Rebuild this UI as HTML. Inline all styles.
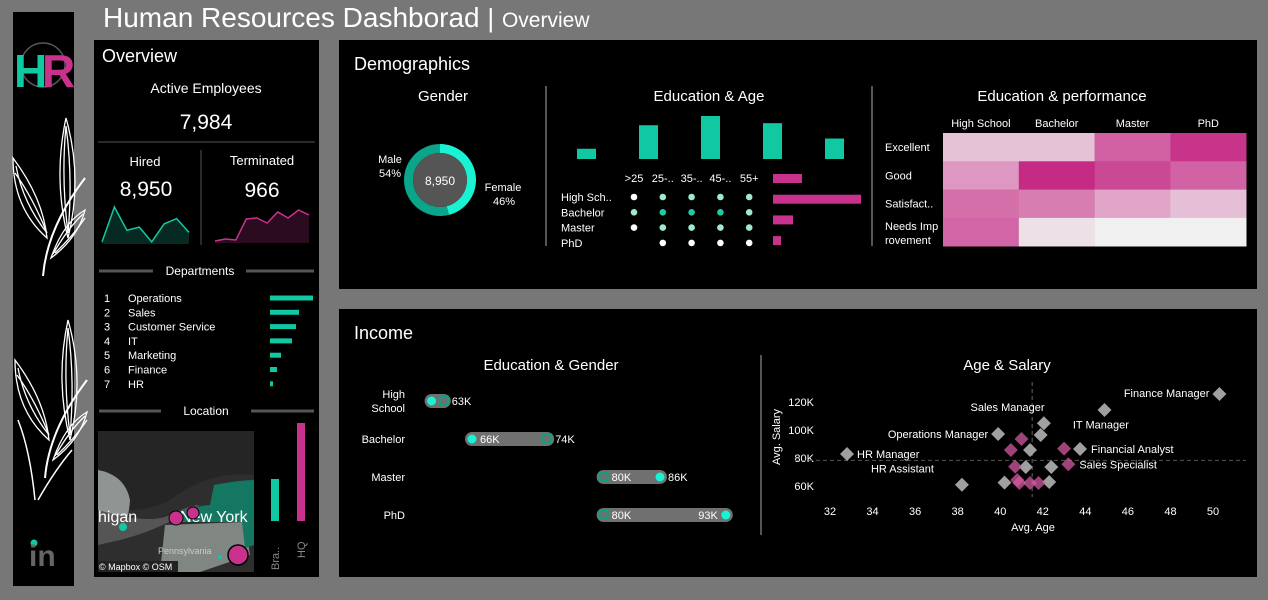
<!DOCTYPE html>
<html><head><meta charset="utf-8">
<style>
html,body{margin:0;padding:0;background:#777;}
svg{display:block;font-family:"Liberation Sans","DejaVu Sans",sans-serif;}
text{fill:#fff;}
</style></head>
<body>
<svg id="root" width="1268" height="600" viewBox="0 0 1268 600" xmlns="http://www.w3.org/2000/svg">
<rect x="0" y="0" width="1268" height="600" fill="#777"/>
<text x="103" y="27" font-size="28">Human Resources Dashborad <tspan font-size="26">|</tspan> <tspan font-size="21">Overview</tspan></text>

<!-- left strip -->
<g>
<rect x="13" y="12" width="61" height="574" fill="#000"/>
<g>
<circle cx="43" cy="65" r="22" fill="none" stroke="#555" stroke-width="1.5"/>
<text x="14" y="87" font-size="46" font-weight="bold" style="fill:#10c9a3">H</text>
<text x="42" y="87" font-size="46" font-weight="bold" style="fill:#c9328c">R</text>
</g>
<defs>
<g id="leafset" fill="none" stroke="#fff" stroke-width="1.3">
<path d="M30 158 Q34 110 72 60" stroke-width="2"/>
<path d="M55 120 Q40 60 53 0 Q70 60 55 120Z"/>
<path d="M55 115 Q48 60 53 8 M55 115 Q60 60 53 8"/>
<path d="M34 120 Q0 90 0 40 Q30 80 34 120Z"/>
<path d="M34 115 Q10 85 3 48 M34 115 Q20 80 2 55"/>
<path d="M38 140 Q50 105 72 92 Q65 120 38 140Z"/>
<path d="M40 136 Q55 110 70 96 M42 135 Q60 118 72 100"/>
</g>
</defs>
<use href="#leafset" transform="translate(13,118)"/>
<use href="#leafset" transform="translate(15,320)"/>
<path d="M18 420 Q30 450 35 500 M38 500 Q55 470 72 450" fill="none" stroke="#fff" stroke-width="1.5"/>
<g>
<circle cx="34" cy="543" r="3.5" fill="#10c9a3"/>
<text x="29" y="566" font-size="30" font-weight="bold" style="fill:#666">in</text>
</g>
</g>

<!-- Overview panel -->
<g>
<rect x="94" y="40" width="225" height="537" fill="#000"/>
<text x="102" y="62" font-size="18">Overview</text>
<text x="206" y="93" font-size="14" text-anchor="middle">Active Employees</text>
<text x="206" y="129" font-size="21" text-anchor="middle">7,984</text>
<line x1="98" y1="142" x2="315" y2="142" stroke="#555"/>
<line x1="201" y1="150" x2="201" y2="245" stroke="#555"/>
<text x="145" y="166" font-size="13" text-anchor="middle">Hired</text>
<text x="146" y="196" font-size="21" text-anchor="middle">8,950</text>
<text x="262" y="165" font-size="13" text-anchor="middle">Terminated</text>
<text x="262" y="197" font-size="21" text-anchor="middle">966</text>
<g id="sparks"></g>
<line x1="99" y1="271" x2="153" y2="271" stroke="#555" stroke-width="3"/>
<line x1="246" y1="271" x2="314" y2="271" stroke="#555" stroke-width="3"/>
<text x="200" y="275" font-size="12" text-anchor="middle">Departments</text>
<g id="depts"></g>
<line x1="99" y1="411" x2="161" y2="411" stroke="#555" stroke-width="3"/>
<line x1="251" y1="411" x2="314" y2="411" stroke="#555" stroke-width="3"/>
<text x="206" y="415" font-size="12" text-anchor="middle">Location</text>
<g>
<clipPath id="mapclip"><rect x="98" y="431" width="156" height="141"/></clipPath>
<g clip-path="url(#mapclip)">
<rect x="98" y="431" width="156" height="141" fill="#2e2e2e"/>
<path d="M98 431 L254 431 L254 475 Q210 470 170 500 Q130 520 98 500Z" fill="#252525"/>
<path d="M98 470 Q125 475 130 500 Q128 530 115 535 L98 535Z" fill="#8e9592"/>
<path d="M98 510 Q150 525 170 515 Q190 505 200 505 Q160 530 120 540 L98 545Z" fill="#555"/>
<path d="M165 525 L245 522 L250 555 L200 572 L160 572Z" fill="#808682"/>
<path d="M168 522 Q180 508 210 505 L214 485 Q240 480 254 480 L254 545 L245 548 L242 522Z" fill="#137762"/>
<text x="98" y="522" font-size="16">higan</text>
<text x="180" y="522" font-size="16">New York</text>
<text x="158" y="554" font-size="9" style="fill:#ccc">Pennsylvania</text>
<circle cx="123" cy="527" r="4" fill="#10c9a3"/>
<circle cx="176" cy="518" r="7" fill="#c9328c" stroke="#000"/>
<circle cx="193" cy="513" r="6" fill="#c9328c" stroke="#000"/>
<circle cx="238" cy="555" r="10" fill="#c9328c" stroke="#000" stroke-width="1.5"/>
<circle cx="220" cy="557" r="2" fill="#10c9a3"/>
<rect x="98" y="561" width="80" height="11" fill="#222"/>
<text x="99" y="570" font-size="9">© Mapbox © OSM</text>
</g>
</g>
<g id="locbars"></g>
</g>

<!-- Demographics panel -->
<g>
<rect x="339" y="40" width="918" height="249" fill="#000"/>
<text x="354" y="70" font-size="18">Demographics</text>
<line x1="546" y1="86" x2="546" y2="246" stroke="#555" stroke-width="2"/>
<line x1="872" y1="86" x2="872" y2="246" stroke="#555" stroke-width="2"/>
<text x="443" y="101" font-size="15" text-anchor="middle">Gender</text>
<text x="709" y="101" font-size="15" text-anchor="middle">Education &amp; Age</text>
<text x="1062" y="101" font-size="15" text-anchor="middle">Education &amp; performance</text>
<g id="donut"></g>
<g id="eduage"></g>
<g id="heat"></g>
</g>

<!-- Income panel -->
<g>
<rect x="339" y="309" width="918" height="268" fill="#000"/>
<text x="354" y="339" font-size="18">Income</text>
<line x1="761" y1="355" x2="761" y2="535" stroke="#555" stroke-width="2"/>
<text x="551" y="370" font-size="15" text-anchor="middle">Education &amp; Gender</text>
<text x="1007" y="370" font-size="15" text-anchor="middle">Age &amp; Salary</text>
<g id="dumbbell"></g>
<g id="scatter"></g>
</g>
</svg>

<script>
const NS="http://www.w3.org/2000/svg";
function mk(tag,attrs,parent,txt){const e=document.createElementNS(NS,tag);for(const k in attrs)e.setAttribute(k,attrs[k]);if(txt!==undefined)e.textContent=txt;parent.appendChild(e);return e;}

// ---- sparkline data ----
const hiredSeries=[2,35,13,16,2,19,24,11];
const termSeries=[2,4,3,24,25,20,31,25,33,28];

// ---- departments ----
const deptNames=["Operations","Sales","Customer Service","IT","Marketing","Finance","HR"];
const deptValues=[43,29,26,22,11,7,3];

// ---- location ----
const locCats=["Bra..","HQ"];
const locValues=[42,98];

// ---- gender ----
const genderCats=["Male","Female"];
const genderPct=[54,46];
const genderTotal="8,950";

// ---- education & age ----
const ageCats=[">25","25-..","35-..","45-..","55+"];
const ageCounts=[10,33,42,35,20];
const eduCats=["High Sch..","Bachelor","Master","PhD"];
const eduCounts=[29,88,20,8];
const eduAgeLevel=[[0,1,1,1,1],[1,2,2,2,1],[0,1,1,1,1],[null,0,0,0,0]];

// ---- heatmap ----
const heatCols=["High School","Bachelor","Master","PhD"];
const heatRows=["Excellent","Good","Satisfact..","Needs Imp|rovement"];
const heatValues=[[0.23,0.23,0.72,0.95],[0.45,1.0,0.85,0.71],[0.65,0.58,0.38,0.25],[0.7,0.08,0,0]];

// ---- education & gender ----
const egCats=["High|School","Bachelor","Master","PhD"];
const egCircle=[61.7,66,86,93];
const egSquare=[63,74,80,80];

// ---- age & salary ----
const jobNames=["Finance Manager","Sales Manager","IT Manager","","Operations Manager","HR Manager","HR Assistant","Financial Analyst","Sales Specialist","","","","","","","","","","","","",""];
const jobAges=[50.3,44.9,42.05,41.9,39.9,32.8,38.2,43.75,43.2,40.5,41.4,43.0,41.0,42.4,42.3,41.2,40.2,40.7,40.8,40.9,41.4,41.8];
const jobSalaries=[125.7,114.3,104.8,96.4,97.1,82.9,60.9,86.4,75.5,85.7,85.7,86.7,93.6,73.6,62.9,73.6,62.4,73.8,64.3,62.1,62.1,62.1];
const jobPink=[0,0,0,0,0,0,0,0,1,1,0,1,1,0,0,0,0,1,1,1,1,1];
const ageTicks=[32,34,36,38,40,42,44,46,48,50];
const salTicks=[60,80,100,120];

// sparklines
(function(){
 const g=document.getElementById('sparks');
 function spark(series,x0,x1,yb,h,stroke,fill,name){
  const max=35,n=series.length;
  const pts=series.map((v,i)=>[x0+(x1-x0)*i/(n-1),yb-v/max*h]);
  const d='M'+pts.map(p=>p[0].toFixed(1)+' '+p[1].toFixed(1)).join(' L');
  const a=mk('path',{d:d+` L${x1} ${yb} L${x0} ${yb}Z`,fill:fill},g);
  
  
  const l=mk('path',{d:d,fill:'none',stroke:stroke,'stroke-width':1.5},g);
  
  
 }
 spark(hiredSeries,102,189,244,37,'#10c9a3','#062a22','hired-sparkline');
 spark(termSeries,215,309,243,35,'#c9328c','#2a0b20','terminated-sparkline');
})();

// departments
(function(){
 const g=document.getElementById('depts');
 const x=v=>v/43*43;
 deptNames.forEach((n,i)=>{
  const y=298+i*14.3;
  const r=mk('g',{},g);
  
  
  mk('text',{x:104,y:y+4,'font-size':11},r,String(i+1));
  mk('text',{x:128,y:y+4,'font-size':11},r,n);
  const b=mk('rect',{x:270,y:y-2.5,width:x(deptValues[i]),height:5,fill:'#10c9a3'},r);
  
  
 });
})();

// location bars
(function(){
 const g=document.getElementById('locbars');
 const cols=['#10c9a3','#c9328c'],xs=[271,297];
 locCats.forEach((c,i)=>{
  const h=locValues[i]/98*98;
  const b=mk('rect',{x:xs[i],y:521-h,width:8,height:h,fill:cols[i]},g);
  
  
  const t=mk('text',{x:0,y:0,'font-size':11,transform:`translate(${xs[i]+8},${i?558:570}) rotate(-90)`,style:'fill:#888'},g,c);
  
  
 });
})();

// donut
(function(){
 const g=document.getElementById('donut');
 const cx=440,cy=180,R=36,r=27;
 const cols=['#0aa58a','#19f3d3'];
 let a0=0;
 const tot=genderPct.reduce((a,b)=>a+b,0);
 genderPct.forEach((p,i)=>{
  const sweep=p/tot*2*Math.PI;
  const s=i===0?-1:1;
  const st=i===0?0:-(genderPct[0]/tot)*2*Math.PI*-1;
  const A0=i===0?0:-(genderPct[0]/tot*2*Math.PI);
  const A1=A0-sweep;
  // angles measured counterclockwise from top
  const P=(ang,rad)=>[cx+rad*Math.sin(ang),cy-rad*Math.cos(ang)];
  const [x0,y0]=P(A0,R),[x1,y1]=P(A1,R),[x2,y2]=P(A1,r),[x3,y3]=P(A0,r);
  const large=sweep>Math.PI?1:0;
  const d=`M${x0} ${y0} A${R} ${R} 0 ${large} 0 ${x1} ${y1} L${x2} ${y2} A${r} ${r} 0 ${large} 1 ${x3} ${y3}Z`;
  const e=mk('path',{d:d,fill:cols[i]},g);
  
  
 });
 mk('circle',{cx:cx,cy:cy,r:r,fill:'#555'},g);
 mk('text',{x:cx,y:cy+5,'font-size':12,'text-anchor':'middle'},g,genderTotal);
 mk('text',{x:390,y:163,'font-size':11,'text-anchor':'middle'},g,genderCats[0]);
 mk('text',{x:390,y:177,'font-size':11,'text-anchor':'middle'},g,genderPct[0]+'%');
 mk('text',{x:503,y:191,'font-size':11,'text-anchor':'middle'},g,genderCats[1]);
 mk('text',{x:504,y:205,'font-size':11,'text-anchor':'middle'},g,genderPct[1]+'%');
})();

// education & age
(function(){
 const g=document.getElementById('eduage');
 const barX=i=>577+i*62, base=159, ys=v=>v/42*43;
 ageCounts.forEach((v,i)=>{
  const b=mk('rect',{x:barX(i),y:base-ys(v),width:19,height:ys(v),fill:'#10c9a3'},g);
  
  
 });
 const colX=i=>634+i*28.8;
 ageCats.forEach((c,i)=>{
  mk('text',{x:colX(i),y:182,'font-size':11,'text-anchor':'middle'},g,c);
 });
 const dotCol=['#ffffff','#9fe8d5','#22c9a3'];
 eduCats.forEach((c,r)=>{
  const y=197+r*15.3;
  mk('text',{x:561,y:y+4,'font-size':11},g,c);
  eduAgeLevel[r].forEach((lv,i)=>{
   if(lv===null)return;
   const d=mk('circle',{cx:colX(i),cy:y,r:3.3,fill:dotCol[lv]},g);
   
   
  });
  const w=eduCounts[r]/88*88;
  const b=mk('rect',{x:773,y:174+r*20.7,width:w,height:9,fill:'#c9328c'},g);
  
  
 });
})();

// heatmap
(function(){
 const g=document.getElementById('heat');
 const lo=[240,240,240],hi=[197,42,133];
 const col=v=>'rgb('+lo.map((l,k)=>Math.round(l+(hi[k]-l)*v)).join(',')+')';
 const x0=943,y0=133,cw=75.8,rh=28.3;
 heatCols.forEach((c,i)=>mk('text',{x:x0+cw*i+cw/2,y:127,'font-size':11,'text-anchor':'middle'},g,c));
 heatRows.forEach((rn,r)=>{
  const parts=rn.split('|');
  parts.forEach((p,k)=>mk('text',{x:885,y:y0+rh*r+(parts.length>1?12+k*14:18),'font-size':11},g,p));
  heatValues[r].forEach((v,i)=>{
   const c=mk('rect',{x:x0+cw*i,y:y0+rh*r,width:cw+0.3,height:rh+0.3,fill:col(v)},g);
   
   
  });
 });
})();

// education & gender dumbbell
(function(){
 const g=document.getElementById('dumbbell');
 const X=v=>472+(v-66)*9.4;
 egCats.forEach((c,i)=>{
  const y=401+i*38;
  const parts=c.split('|');
  parts.forEach((p,k)=>mk('text',{x:405,y:y+4+(parts.length>1?(k-0.5)*14:0),'font-size':11,'text-anchor':'end'},g,p));
  const a=X(egCircle[i]),b=X(egSquare[i]);
  const mn=Math.min(a,b)-7,mx=Math.max(a,b)+7;
  const pill=mk('rect',{x:mn,y:y-7,width:mx-mn,height:14,rx:7,fill:'#707070'},g);
  
  
  const ci=mk('circle',{cx:a,cy:y,r:4.5,fill:'#19f3d3'},g);
  
  
  const sq=mk('rect',{x:b-4,y:y-4,width:8,height:8,fill:'none',stroke:'#10a080','stroke-width':2},g);
  
  
  const lowV=Math.min(egCircle[i],egSquare[i]),hiV=Math.max(egCircle[i],egSquare[i]);
  if(i>0) mk('text',{x:X(lowV)+8,y:y+4,'font-size':11},g,Math.round(lowV)+'K');
  if(i===3) mk('text',{x:X(hiV)-8,y:y+4,'font-size':11,'text-anchor':'end'},g,Math.round(hiV)+'K');
  else mk('text',{x:X(hiV)+8,y:y+4,'font-size':11},g,Math.round(hiV)+'K');
 });
})();

// scatter
(function(){
 const g=document.getElementById('scatter');
 const X=a=>830+(a-32)*21.28, Y=s=>402-(s-120)*1.4;
 ageTicks.forEach(t=>mk('text',{x:X(t),y:515,'font-size':11,'text-anchor':'middle'},g,String(t)));
 salTicks.forEach(t=>mk('text',{x:814,y:Y(t)+4,'font-size':11,'text-anchor':'end'},g,t+'K'));
 mk('text',{x:1033,y:531,'font-size':11,'text-anchor':'middle'},g,'Avg. Age');
 mk('text',{x:0,y:0,'font-size':11,'text-anchor':'middle',transform:'translate(780,437) rotate(-90)'},g,'Avg. Salary');
 mk('line',{x1:X(41.5),y1:382,x2:X(41.5),y2:497,stroke:'#666','stroke-dasharray':'4,3'},g);
 mk('line',{x1:795,y1:Y(78.3),x2:1246,y2:Y(78.3),stroke:'#555','stroke-dasharray':'4,3'},g);
 const labelPos={0:['end',-10,3],1:['end',-60,1],2:['start',29,5],4:['end',-10,4],5:['start',10,4],6:['end',-28,-12],7:['start',11,4],8:['start',11,4]};
 jobAges.forEach((a,i)=>{
  const x=X(a),y=Y(jobSalaries[i]);
  const d=mk('path',{d:`M${x} ${y-7} L${x+7} ${y} L${x} ${y+7} L${x-7} ${y}Z`,fill:jobPink[i]?'rgba(210,90,160,0.75)':'#a0a0a0'},g);
  
  
  if(jobNames[i]&&labelPos[i]){
   const p=labelPos[i];
   mk('text',{x:x+p[1],y:y+p[2],'font-size':11,'text-anchor':p[0]},g,jobNames[i]);
  }
 });
})();
</script>
</body></html>
